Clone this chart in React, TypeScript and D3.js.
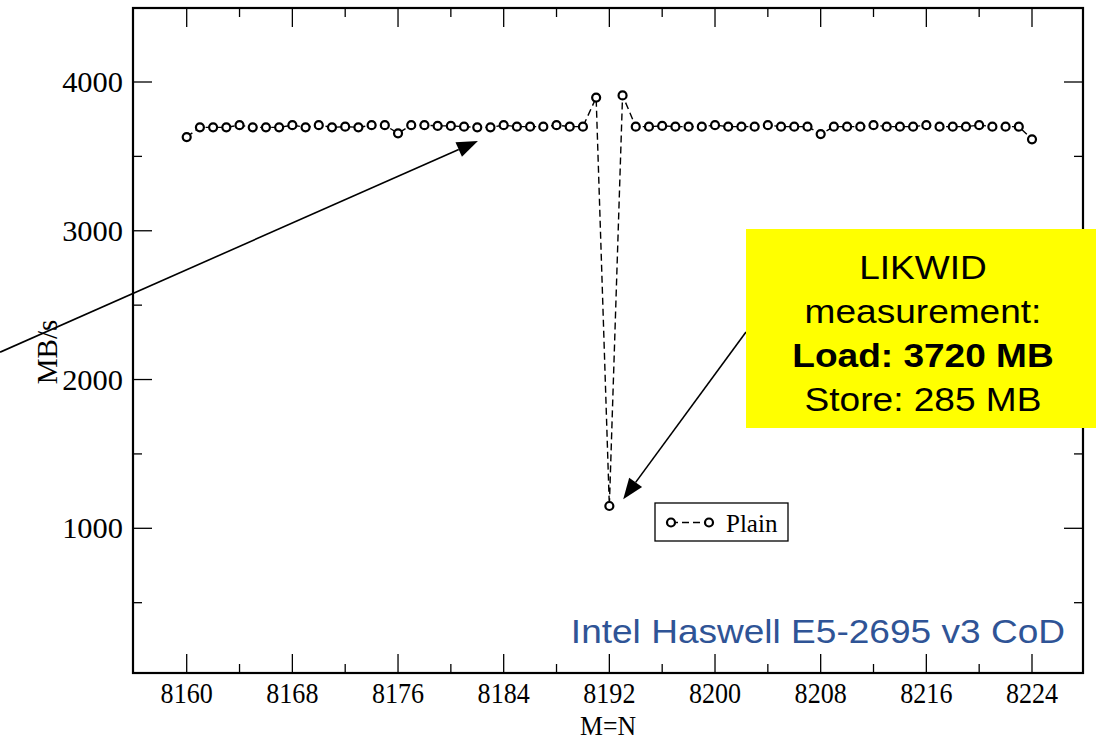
import React from "react";
import * as d3 from "d3";

const sizes: number[] = d3.range(8160, 8225);
const plainMBs: number[] = [
  3630, 3695, 3695, 3695, 3710, 3695, 3695, 3695, 3710, 3695,
  3710, 3695, 3700, 3695, 3710, 3710, 3655, 3710, 3710, 3705,
  3705, 3700, 3695, 3695, 3710, 3700, 3700, 3700, 3710, 3700,
  3700, 3895, 1150, 3910, 3700, 3700, 3705, 3700, 3700, 3700,
  3710, 3700, 3700, 3700, 3710, 3700, 3700, 3700, 3650, 3700,
  3700, 3700, 3710, 3700, 3700, 3700, 3710, 3700, 3700, 3700,
  3710, 3700, 3700, 3700, 3615,
];
const xMajorTicks: number[] = [8160, 8168, 8176, 8184, 8192, 8200, 8208, 8216, 8224];
const xMinorTicks: number[] = [8164, 8172, 8180, 8188, 8196, 8204, 8212, 8220];
const yMajorTicks: number[] = [1000, 2000, 3000, 4000];
const yMinorTicks: number[] = [500, 1500, 2500, 3500];
const seriesName = "Plain";
const boxLines: string[] = ["LIKWID", "measurement:", "Load: 3720 MB", "Store: 285 MB"];
const cpuLabel = "Intel Haswell E5-2695 v3 CoD";

export default function App() {
  const W = 1096, H = 742;
  const L = 133, T = 8, R = 1083, B = 673;
  const x = d3.scaleLinear().domain([8160, 8224]).range([186.7, 1032]);
  const y = d3.scaleLinear().domain([1000, 4000]).range([528.3, 82]);
  const line = d3.line<number>().x((_, i) => x(sizes[i])).y((d) => y(d));
  const pts = plainMBs.map((v, i) => [x(sizes[i]), y(v)]);

  const serif = "'Liberation Serif', 'Times New Roman', serif";
  const sans = "'Liberation Sans', Arial, sans-serif";

  const a1s = [x(8145.87), y(2184)];
  const a1e = [x(8182.05), y(3603)];
  const a2s = [746, 332];
  const a2e = [x(8193.05), y(1195)];

  const arrow = (s: number[], e: number[], key: string) => {
    const ang = Math.atan2(e[1] - s[1], e[0] - s[0]);
    const len = 21, hw = 8;
    const bx = e[0] - len * Math.cos(ang), by = e[1] - len * Math.sin(ang);
    const p1 = [bx + hw * Math.sin(ang), by - hw * Math.cos(ang)];
    const p2 = [bx - hw * Math.sin(ang), by + hw * Math.cos(ang)];
    return (
      <g key={key}>
        <line x1={s[0]} y1={s[1]} x2={bx} y2={by} stroke="#000" strokeWidth={1.6} />
        <path d={`M${e[0]},${e[1]}L${p1[0]},${p1[1]}L${p2[0]},${p2[1]}Z`} fill="#000" />
      </g>
    );
  };

  return (
    <svg width={W} height={H} style={{ position: "absolute", left: 0, top: 0, background: "#fff" }}>
      <rect x={0} y={0} width={W} height={H} fill="#fff" />
      {xMajorTicks.map((t) => (
        <g key={"xM" + t}>
          <line x1={x(t)} x2={x(t)} y1={B} y2={B - 19} stroke="#000" strokeWidth={1.3} />
          <line x1={x(t)} x2={x(t)} y1={T} y2={T + 19} stroke="#000" strokeWidth={1.3} />
          <text transform={`translate(${x(t)},703) scale(0.9,1)`} textAnchor="middle" fontFamily={serif} fontSize={29}>{t}</text>
        </g>
      ))}
      {xMinorTicks.map((t) => (
        <g key={"xm" + t}>
          <line x1={x(t)} x2={x(t)} y1={B} y2={B - 9} stroke="#000" strokeWidth={1.3} />
          <line x1={x(t)} x2={x(t)} y1={T} y2={T + 9} stroke="#000" strokeWidth={1.3} />
        </g>
      ))}
      {yMajorTicks.map((t) => (
        <g key={"yM" + t}>
          <line x1={L} x2={L + 19} y1={y(t)} y2={y(t)} stroke="#000" strokeWidth={1.3} />
          <line x1={R} x2={R - 19} y1={y(t)} y2={y(t)} stroke="#000" strokeWidth={1.3} />
          <text transform={`translate(123,${y(t) + 10}) scale(1.05,1)`} textAnchor="end" fontFamily={serif} fontSize={29}>{t}</text>
        </g>
      ))}
      {yMinorTicks.map((t) => (
        <g key={"ym" + t}>
          <line x1={L} x2={L + 9} y1={y(t)} y2={y(t)} stroke="#000" strokeWidth={1.3} />
          <line x1={R} x2={R - 9} y1={y(t)} y2={y(t)} stroke="#000" strokeWidth={1.3} />
        </g>
      ))}
      <rect x={L} y={T} width={R - L} height={B - T} fill="none" stroke="#000" strokeWidth={2.2} />
      <text transform="translate(608,735) scale(0.92,1)" textAnchor="middle" fontFamily={serif} fontSize={28}>M=N</text>
      <text transform="translate(57,352) rotate(-90)" textAnchor="middle" fontFamily={serif} fontSize={29}>MB/s</text>

      <path d={line(plainMBs) || ""} fill="none" stroke="#000" strokeWidth={1.4} strokeDasharray="7,4" />
      {pts.map((p, i) => (
        <circle key={i} cx={p[0]} cy={p[1]} r={4} fill="#fff" stroke="#000" strokeWidth={2.2} />
      ))}

      <rect x={655} y={503} width={133} height={38} fill="#fff" stroke="#000" strokeWidth={1.3} />
      <line x1={671} x2={709} y1={522.5} y2={522.5} stroke="#000" strokeWidth={1.4} strokeDasharray="7,4" />
      <circle cx={671} cy={522.5} r={4} fill="#fff" stroke="#000" strokeWidth={2.2} />
      <circle cx={709} cy={522.5} r={4} fill="#fff" stroke="#000" strokeWidth={2.2} />
      <text x={726} y={532} fontFamily={serif} fontSize={25}>{seriesName}</text>

      {arrow(a1s, a1e, "a1")}
      {arrow(a2s, a2e, "a2")}
      <rect x={746} y={229} width={350} height={199} fill="#ffff00" />
      {boxLines.map((s, i) => (
        <text key={s} transform={`translate(923,${279 + i * 44}) scale(1.09,1)`} textAnchor="middle" fontFamily={sans} fontSize={34}
          fontWeight={i === 2 ? "bold" : "normal"}>{s}</text>
      ))}
      <text transform="translate(1065,643) scale(1.09,1)" textAnchor="end" fontFamily={sans} fontSize={34} fill="#2F5496">{cpuLabel}</text>
    </svg>
  );
}
